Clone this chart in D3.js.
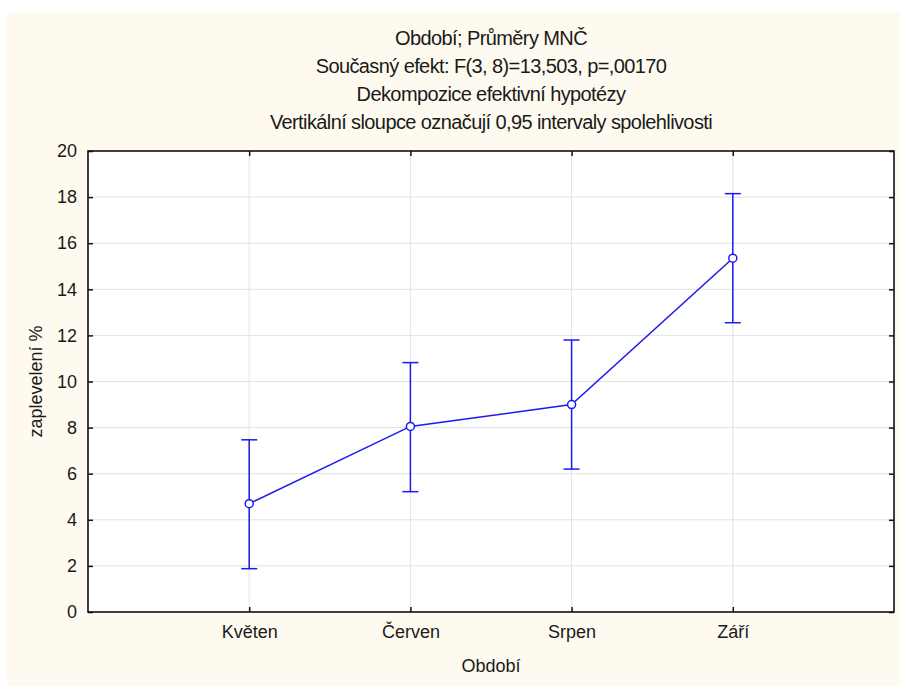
<!DOCTYPE html>
<html>
<head>
<meta charset="utf-8">
<script src="https://cdn.jsdelivr.net/npm/d3@7"></script>
<style>
  body { margin: 0; background: #fff; }
  svg text { font-family: "Liberation Sans", Arial, sans-serif; fill: #1a1a1a; }
</style>
</head>
<body>
<div id="chart"></div>
<script>
// data
const categories = ["Květen", "Červen", "Srpen", "Září"];
const means = [4.7, 8.05, 9.0, 15.35];
const lower = [1.88, 5.22, 6.2, 12.55];
const upper = [7.47, 10.82, 11.8, 18.15];
const yTicks = [0, 2, 4, 6, 8, 10, 12, 14, 16, 18, 20];
const titles = [
    "Období; Průměry MNČ",
    "Současný efekt: F(3, 8)=13,503, p=,00170",
    "Dekompozice efektivní hypotézy",
    "Vertikální sloupce označují 0,95 intervaly spolehlivosti"
];

const width = 902, height = 686;
const margin = { top: 151, right: 8, bottom: 74, left: 88 };
const w = width - margin.left - margin.right;
const h = height - margin.top - margin.bottom;

const svg = d3.select("#chart").append("svg")
    .attr("width", width)
    .attr("height", height);

// cream background
svg.append("rect")
    .attr("x", 7).attr("y", 12)
    .attr("width", 893).attr("height", 674)
    .attr("fill", "#fefaef");

const g = svg.append("g")
    .attr("transform", `translate(${margin.left},${margin.top})`);

const x = d3.scalePoint()
    .domain(["", ...categories, " "])
    .range([0, w]);

const y = d3.scaleLinear()
    .domain([0, 20])
    .range([h, 0]);

g.append("rect")
    .attr("width", w).attr("height", h)
    .attr("fill", "#fff");

// grid
g.selectAll(".hgrid")
    .data(yTicks.slice(1, -1))
    .enter().append("line")
    .attr("x1", 0).attr("x2", w)
    .attr("y1", d => y(d)).attr("y2", d => y(d))
    .attr("stroke", "#e2e2e2").attr("stroke-width", 1);

g.selectAll(".vgrid")
    .data(categories)
    .enter().append("line")
    .attr("x1", d => x(d)).attr("x2", d => x(d))
    .attr("y1", 0).attr("y2", h)
    .attr("stroke", "#e2e2e2").attr("stroke-width", 1);

// axes with inward ticks
g.append("g")
    .call(d3.axisLeft(y).tickValues(yTicks).tickSize(-5).tickPadding(11).tickFormat(d3.format("d")))
    .call(a => a.select(".domain").remove())
    .call(a => a.selectAll("line").attr("stroke", "#111").attr("stroke-width", 1.5))
    .call(a => a.selectAll("text").attr("font-size", 18).attr("fill", "#1a1a1a"));

g.append("g")
    .attr("transform", `translate(${w},0)`)
    .call(d3.axisRight(y).tickValues(yTicks).tickSize(-5).tickFormat(""))
    .call(a => a.select(".domain").remove())
    .call(a => a.selectAll("line").attr("stroke", "#111").attr("stroke-width", 1.5));

g.append("g")
    .attr("transform", `translate(0,${h})`)
    .call(d3.axisBottom(x).tickValues(categories).tickSize(-5).tickPadding(13))
    .call(a => a.select(".domain").remove())
    .call(a => a.selectAll("line").attr("stroke", "#111").attr("stroke-width", 1.5))
    .call(a => a.selectAll("text").attr("font-size", 18).attr("fill", "#1a1a1a"));

g.append("g")
    .call(d3.axisTop(x).tickValues(categories).tickSize(-5).tickFormat(""))
    .call(a => a.select(".domain").remove())
    .call(a => a.selectAll("line").attr("stroke", "#111").attr("stroke-width", 1.5));

// frame
g.append("rect")
    .attr("width", w).attr("height", h)
    .attr("fill", "none")
    .attr("stroke", "#111").attr("stroke-width", 1.6);

const rows = categories.map((c, i) => ({ c, m: means[i], lo: lower[i], hi: upper[i] }));
const blue = "#1a1af0";

// error bars
const eb = g.selectAll(".err").data(rows).enter().append("g");
eb.append("line")
    .attr("x1", d => x(d.c)).attr("x2", d => x(d.c))
    .attr("y1", d => y(d.lo)).attr("y2", d => y(d.hi))
    .attr("stroke", blue).attr("stroke-width", 1.5);
eb.append("line")
    .attr("x1", d => x(d.c) - 8).attr("x2", d => x(d.c) + 8)
    .attr("y1", d => y(d.hi)).attr("y2", d => y(d.hi))
    .attr("stroke", blue).attr("stroke-width", 1.5);
eb.append("line")
    .attr("x1", d => x(d.c) - 8).attr("x2", d => x(d.c) + 8)
    .attr("y1", d => y(d.lo)).attr("y2", d => y(d.lo))
    .attr("stroke", blue).attr("stroke-width", 1.5);

// mean line
g.append("path")
    .datum(rows)
    .attr("fill", "none")
    .attr("stroke", blue).attr("stroke-width", 1.5)
    .attr("d", d3.line().x(d => x(d.c)).y(d => y(d.m)));

g.selectAll(".pt").data(rows).enter().append("circle")
    .attr("cx", d => x(d.c)).attr("cy", d => y(d.m))
    .attr("r", 4)
    .attr("fill", "#fff")
    .attr("stroke", blue).attr("stroke-width", 1.5);

// titles
svg.selectAll(".title").data(titles).enter().append("text")
    .attr("x", margin.left + w / 2)
    .attr("y", (d, i) => 45 + i * 28)
    .attr("text-anchor", "middle")
    .attr("font-size", 20)
    .attr("letter-spacing", -0.6)
    .text(d => d);

svg.append("text")
    .attr("x", margin.left + w / 2)
    .attr("y", 672)
    .attr("text-anchor", "middle")
    .attr("font-size", 18)
    .text("Období");

svg.append("text")
    .attr("transform", `translate(42,${margin.top + h / 2}) rotate(-90)`)
    .attr("text-anchor", "middle")
    .attr("font-size", 18)
    .text("zaplevelení %");
</script>
</body>
</html>
